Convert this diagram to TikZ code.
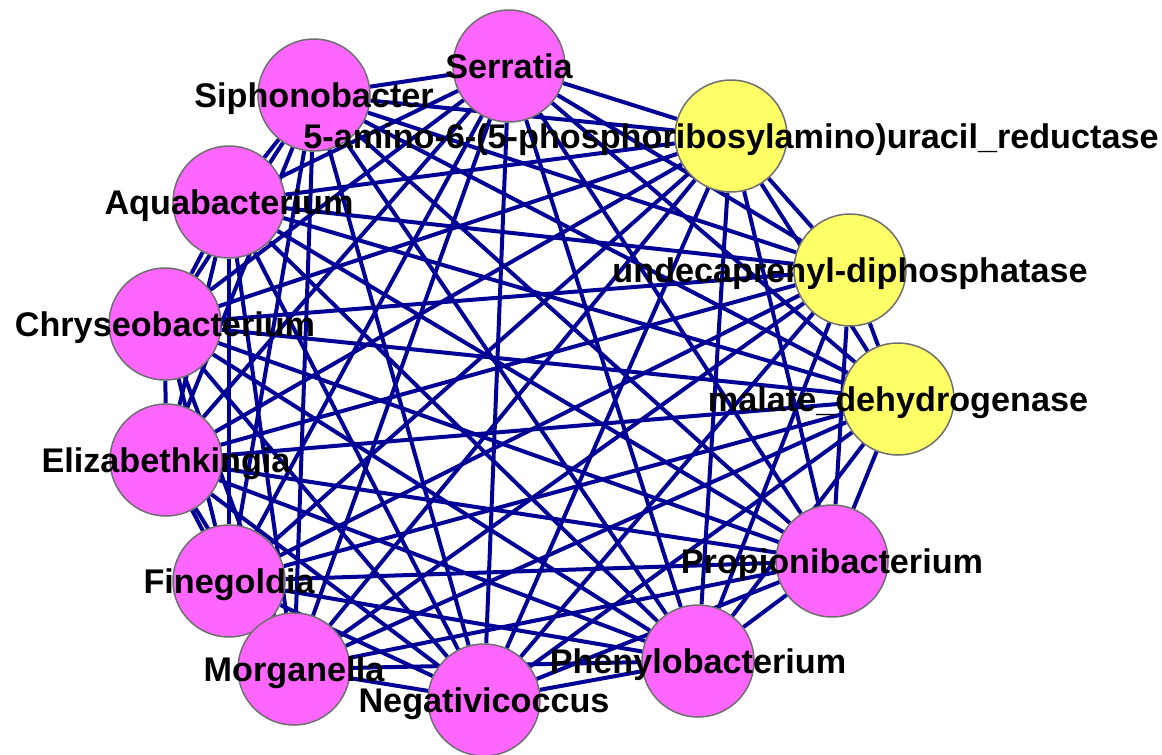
\documentclass[tikz,border=0pt]{standalone}
\usepackage{fontspec}
\setmainfont{Liberation Sans}
\usetikzlibrary{backgrounds}
\definecolor{nodepink}{RGB}{255,102,255}
\definecolor{nodeyellow}{RGB}{255,255,102}
\definecolor{edgeblue}{RGB}{0,0,150}
\definecolor{rimgray}{RGB}{110,110,110}
\tikzset{
  bug/.style={circle,draw=rimgray,line width=1.5pt,fill=nodepink,minimum size=112pt,inner sep=0pt},
  gene/.style={bug,fill=nodeyellow},
  lbl/.style={font=\fontsize{34.2}{34.2}\selectfont\bfseries,text height=24.5pt,text depth=0pt,inner sep=0pt,text=black},
  link/.style={draw=edgeblue,line width=4pt}
}
\begin{document}
\begin{tikzpicture}[x=1pt,y=-1pt]
\useasboundingbox (0,0) rectangle (1162,755);
\node[bug]  (ser) at (509,66)  {};
\node[bug]  (sip) at (314,95)  {};
\node[gene] (ami) at (731,136) {};
\node[bug]  (aqu) at (229,202) {};
\node[gene] (und) at (850,270) {};
\node[bug]  (chr) at (165,324) {};
\node[gene] (mal) at (898,399) {};
\node[bug]  (eli) at (166,460) {};
\node[bug]  (fin) at (229,581) {};
\node[bug]  (pro) at (832,561) {};
\node[bug]  (phe) at (698,661) {};
\node[bug]  (mor) at (294,669) {};
\node[bug]  (neg) at (484,700) {};
\begin{scope}[on background layer]
\foreach \a [count=\i] in {ser,sip,ami,aqu,und,chr,mal,eli,fin,pro,phe,mor,neg}{
  \foreach \b [count=\j] in {ser,sip,ami,aqu,und,chr,mal,eli,fin,pro,phe,mor,neg}{
    \ifnum\j>\i \draw[link] (\a) -- (\b); \fi
  }
}
\end{scope}
\node[lbl] (ser-l) at (ser) {Serratia};
\node[lbl] (sip-l) at (sip) {Siphonobacter};
\node[lbl] (ami-l) at (ami) {5-amino-6-(5-phosphoribosylamino)uracil\_reductase};
\node[lbl] (aqu-l) at (aqu) {Aquabacterium};
\node[lbl] (und-l) at (und) {undecaprenyl-diphosphatase};
\node[lbl] (chr-l) at (chr) {Chryseobacterium};
\node[lbl] (mal-l) at (mal) {malate\_dehydrogenase};
\node[lbl] (eli-l) at (eli) {Elizabethkingia};
\node[lbl] (fin-l) at (fin) {Finegoldia};
\node[lbl] (pro-l) at (pro) {Propionibacterium};
\node[lbl] (phe-l) at (phe) {Phenylobacterium};
\node[lbl] (mor-l) at (mor) {Morganella};
\node[lbl] (neg-l) at (neg) {Negativicoccus};
\end{tikzpicture}
\end{document}
